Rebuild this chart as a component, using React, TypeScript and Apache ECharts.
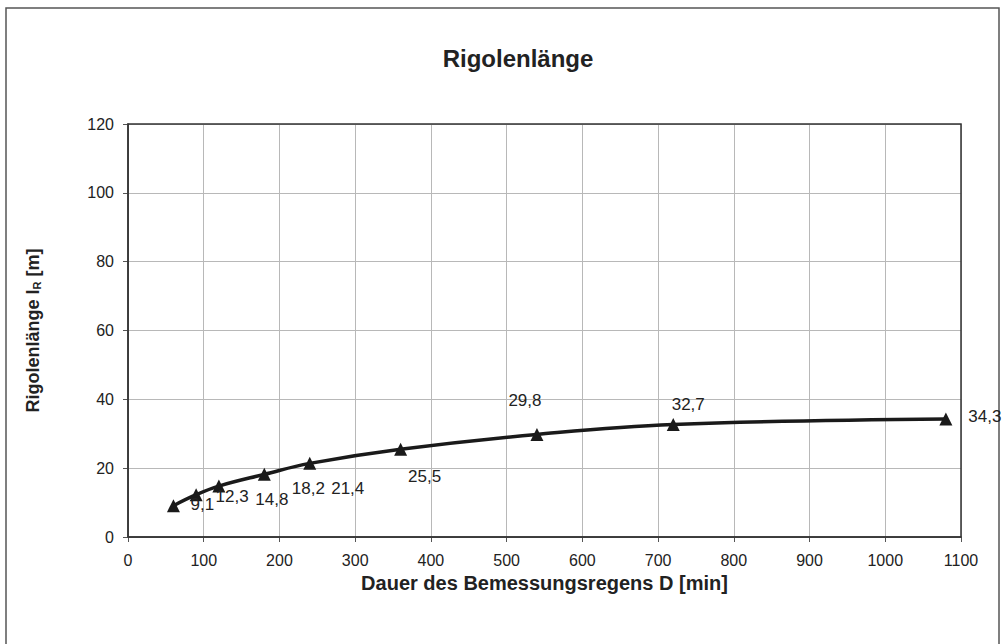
import React, { useEffect, useRef } from "react";
import * as echarts from "echarts";

const durations = [60, 90, 120, 180, 240, 360, 540, 720, 1080];
const lengths = [9.1, 12.3, 14.8, 18.2, 21.4, 25.5, 29.8, 32.7, 34.3];
const labelTexts = ["9,1", "12,3", "14,8", "18,2", "21,4", "25,5", "29,8", "32,7", "34,3"];
const labelOffsets: [number, number][] = [
  [29, -1], [36, 2], [53, 13], [44, 14], [38, 25], [24, 27], [-12, -34], [15, -20], [39, -2],
];

export default function App() {
  const ref = useRef<HTMLDivElement>(null);
  useEffect(() => {
    if (!ref.current) return;
    const chart = echarts.init(ref.current, undefined, { renderer: "svg" });
    const font = "'Liberation Sans', Arial, sans-serif";
    chart.setOption({
      animation: false,
      backgroundColor: "#fff",
      title: {
        text: "Rigolenlänge",
        left: 513,
        textAlign: "center",
        top: 41,
        textStyle: { fontFamily: font, fontSize: 24, fontWeight: "bold", color: "#222" },
      },
      graphic: [
        {
          type: "rect",
          shape: { x: 6, y: 8, width: 993, height: 650 },
          style: { fill: "none", stroke: "#555", lineWidth: 1.5 },
          silent: true,
        },
        {
          type: "rect",
          shape: { x: 128, y: 124, width: 833, height: 413 },
          style: { fill: "none", stroke: "#333", lineWidth: 1.5 },
          silent: true,
          z: 10,
        },
      ],
      grid: { left: 128, right: 41, top: 124, bottom: 107 },
      xAxis: {
        type: "value",
        min: 0,
        max: 1100,
        interval: 100,
        name: "Dauer des Bemessungsregens D [min]",
        nameLocation: "middle",
        nameGap: 30,
        nameTextStyle: { fontFamily: font, fontSize: 20, fontWeight: "bold", color: "#222" },
        axisLine: { show: true, lineStyle: { color: "#333", width: 1.5 } },
        axisTick: { show: true, length: 5, lineStyle: { color: "#555" } },
        axisLabel: { fontFamily: font, fontSize: 16, color: "#222", margin: 15, formatter: (v: number) => String(v) },
        splitLine: { show: true, lineStyle: { color: "#b8b8b8", width: 1 } },
      },
      yAxis: {
        type: "value",
        min: 0,
        max: 120,
        interval: 20,
        name: "Rigolenlänge l{sub|R} [m]",
        nameLocation: "middle",
        nameGap: 86,
        nameTextStyle: {
          fontFamily: font,
          fontSize: 18,
          fontWeight: "bold",
          color: "#222",
          rich: {
            sub: { fontFamily: font, fontSize: 11, fontWeight: "bold", color: "#222", verticalAlign: "bottom", padding: [7, 0, 0, 0] },
          },
        },
        axisLine: { show: true, lineStyle: { color: "#333", width: 1.5 } },
        axisTick: { show: true, length: 5, lineStyle: { color: "#555" } },
        axisLabel: { fontFamily: font, fontSize: 16, color: "#222", margin: 14 },
        splitLine: { show: true, lineStyle: { color: "#b8b8b8", width: 1 } },
      },
      series: [
        {
          type: "line",
          data: durations.map((d, i) => ({
            value: [d, lengths[i]],
            label: {
              show: true,
              position: "inside",
              offset: labelOffsets[i],
              formatter: labelTexts[i],
              fontFamily: font,
              fontSize: 17,
              color: "#222",
            },
          })),
          smooth: 0.4,
          symbol: "triangle",
          symbolSize: 13,
          itemStyle: { color: "#1a1a1a" },
          lineStyle: { color: "#1a1a1a", width: 3.5 },
          z: 5,
        },
      ],
    });
    return () => chart.dispose();
  }, []);
  return <div ref={ref} style={{ position: "fixed", left: 0, top: 0, width: 1002, height: 644 }} />;
}
